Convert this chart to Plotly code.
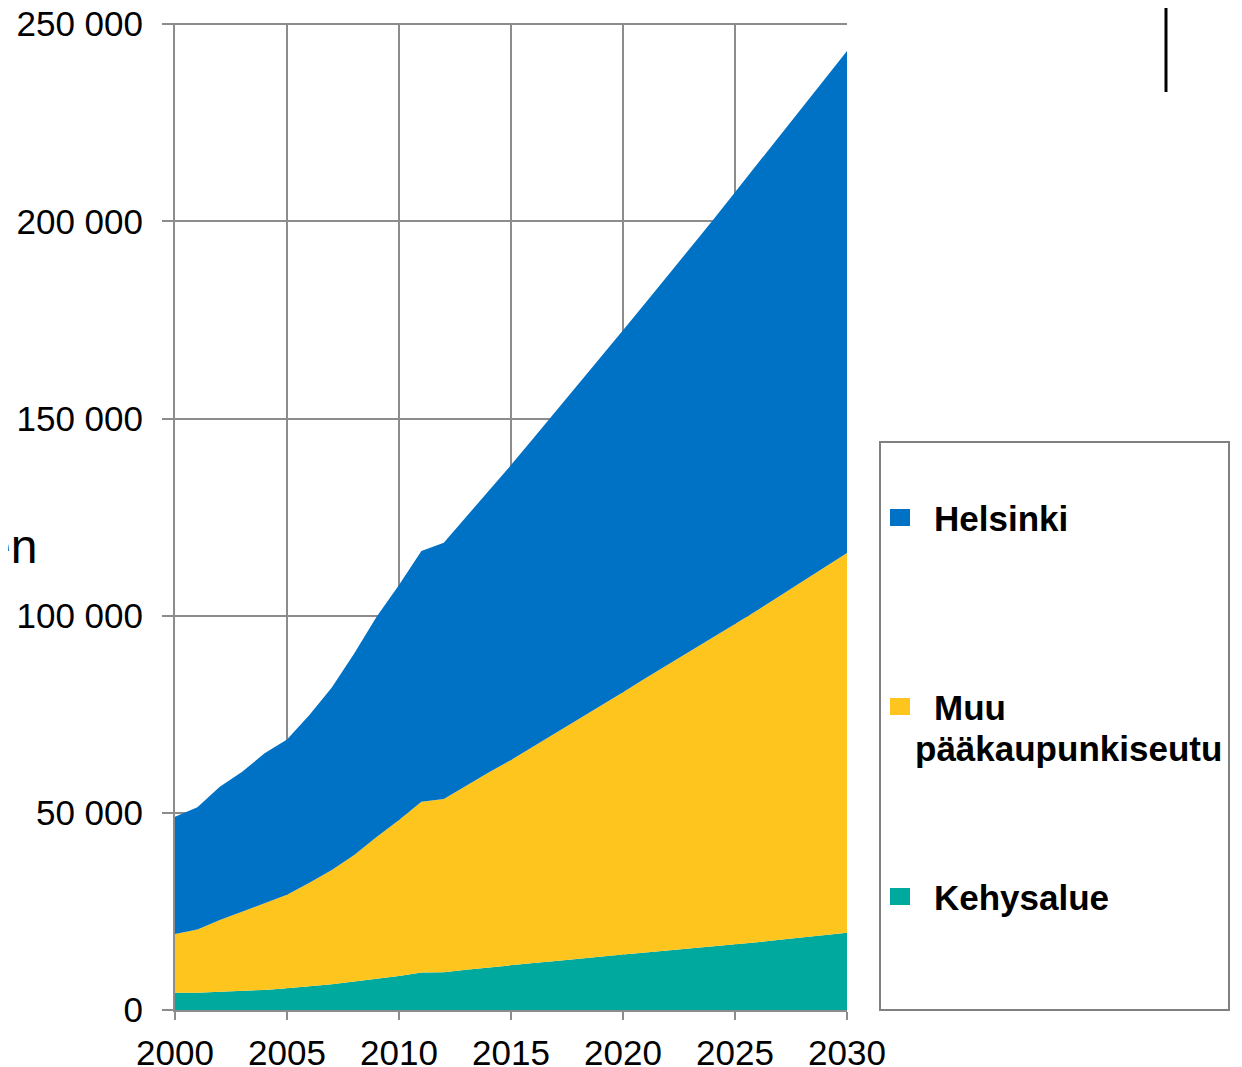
import plotly.graph_objects as go

years = list(range(2000, 2031))

kehysalue = [4400, 4400, 4600, 4800, 5100, 5500, 6000, 6500, 7200, 7900, 8600,
             9500, 9600, 10200, 10800, 11400, 11900, 12400, 13000, 13500, 14100,
             14600, 15100, 15600, 16100, 16600, 17200, 17800, 18400, 19000, 19600]

muu = [14900, 16000, 18200, 20100, 21900, 23700, 26300, 29000, 32100, 36000, 39600,
       43300, 43900, 46700, 49400, 52000, 54900, 57900, 60700, 63600, 66500,
       69500, 72400, 75300, 78300, 81300, 84200, 87200, 90200, 93200, 96300]

helsinki = [29700, 31000, 33800, 35500, 38100, 39400, 42500, 46300, 51100, 55800, 59600,
            63600, 65000, 68100, 71400, 74800, 78200, 81500, 84900, 88400, 91800,
            95200, 98700, 102200, 105800, 109500, 113100, 116700, 120300, 123800, 127300]

series_names = ["Kehysalue", "Muu<br>pääkaupunkiseutu", "Helsinki"]
series_values = [kehysalue, muu, helsinki]
series_colors = ["#00A99D", "#FEC51E", "#0072C6"]

y_tickvals = [0, 50000, 100000, 150000, 200000, 250000]
y_ticktext = ["0", "50 000", "100 000", "150 000", "200 000", "250 000"]
x_tickvals = [2000, 2005, 2010, 2015, 2020, 2025, 2030]

fig = go.Figure()
for name, vals, col in zip(series_names, series_values, series_colors):
    fig.add_trace(go.Scatter(
        x=years, y=vals, name=name, mode="lines",
        stackgroup="one", line=dict(width=0, color=col),
        fillcolor=col, showlegend=False, hoverinfo="x+y+name"))

OFF = 8  # page body margin
W, H = 1242 - OFF, 1067 - OFF
L, R, T, B = 175 - OFF, 847 - OFF, 23 - OFF, 1010 - OFF
pw, ph = R - L, B - T

def px_x(x):
    return (x - OFF - L) / pw

def px_y(y):
    return (B - (y - OFF)) / ph

grid = "#8C8C8C"
font_fam = "Liberation Sans, Arial, sans-serif"
FS = 35

fig.update_layout(
    width=W, height=H,
    margin=dict(l=L, r=W - R, t=T, b=H - B, autoexpand=False),
    paper_bgcolor="white", plot_bgcolor="white",
    font=dict(family=font_fam, size=FS, color="black"),
    xaxis=dict(range=[2000, 2030], tickvals=x_tickvals, ticks="outside",
               ticklen=8, tickwidth=2, tickcolor=grid,
               showgrid=True, gridcolor=grid, gridwidth=2,
               showline=True, linecolor=grid, linewidth=2,
               zeroline=False, ticklabelstandoff=3, ticklabeloverflow="allow",
               tickfont=dict(size=FS, family=font_fam, color="black")),
    yaxis=dict(range=[0, 250300], tickvals=y_tickvals, ticktext=y_ticktext,
               ticks="outside", ticklen=11, tickwidth=2, tickcolor=grid,
               showgrid=True, gridcolor=grid, gridwidth=2,
               showline=True, linecolor=grid, linewidth=2,
               zeroline=False, ticklabelstandoff=12, ticklabeloverflow="allow",
               tickfont=dict(size=FS, family=font_fam, color="black")),
)

# Legend box (drawn manually)
shapes = [dict(type="rect", xref="paper", yref="paper",
               x0=px_x(880), x1=px_x(1229), y0=px_y(1010), y1=px_y(442),
               line=dict(color="#808080", width=2), fillcolor="rgba(0,0,0,0)", layer="above")]
legend_rows = [("Helsinki", series_colors[2], 518, 932),
               ("Muu", series_colors[1], 707, 932),
               ("Kehysalue", series_colors[0], 897, 932)]
annotations = []
for text, col, yc, xt in legend_rows:
    shapes.append(dict(type="rect", xref="paper", yref="paper",
                       x0=px_x(890), x1=px_x(910), y0=px_y(yc + 8), y1=px_y(yc - 9),
                       line=dict(width=0), fillcolor=col, layer="above"))
    annotations.append(dict(xref="paper", yref="paper", x=px_x(xt), y=px_y(yc),
                            text="<b>" + text + "</b>", showarrow=False,
                            xanchor="left", yanchor="middle",
                            font=dict(size=FS, family=font_fam, color="black")))
annotations.append(dict(xref="paper", yref="paper", x=px_x(913), y=px_y(748),
                        text="<b>pääkaupunkiseutu</b>", showarrow=False,
                        xanchor="left", yanchor="middle",
                        font=dict(size=FS, family=font_fam, color="black")))
# partial text at left edge
annotations.append(dict(xref="paper", yref="paper", x=px_x(39), y=px_y(546),
                        text="en", showarrow=False, xanchor="right", yanchor="middle",
                        font=dict(size=48, family=font_fam, color="black")))
# vertical black line top right
shapes.append(dict(type="line", xref="paper", yref="paper",
                   x0=px_x(1166), x1=px_x(1166), y0=px_y(92), y1=px_y(0),
                   line=dict(color="black", width=3)))

fig.update_layout(shapes=shapes, annotations=annotations)
fig.write_html("out.html")
